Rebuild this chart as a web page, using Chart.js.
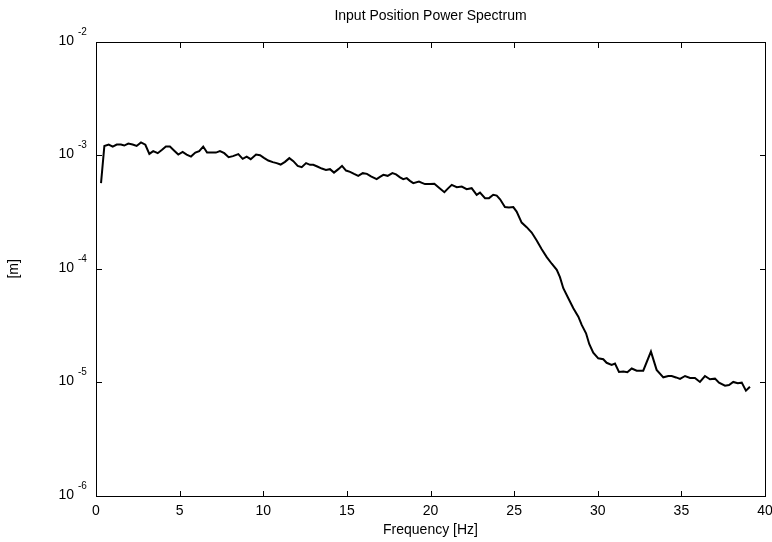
<!DOCTYPE html>
<html>
<head>
<meta charset="utf-8">
<script src="https://cdn.jsdelivr.net/npm/chart.js@4.4.1/dist/chart.umd.min.js"></script>
<style>
  body { margin: 0; background: #fff; }
  #wrap { width: 772px; height: 542px; }
</style>
</head>
<body>
<div id="wrap"><canvas id="spectrum" width="772" height="542"></canvas></div>
<script>
// frequency axis of the spectrum [Hz]
const freq = [
  0.30, 0.50, 0.76, 1.00, 1.24, 1.49, 1.69, 1.93, 2.19, 2.43, 2.69, 2.95, 3.19, 3.42, 3.69, 3.95,
  4.18, 4.42, 4.68, 4.92, 5.18, 5.42, 5.68, 5.94, 6.17, 6.41, 6.64, 6.87, 7.17, 7.41, 7.67, 7.93,
  8.19, 8.51, 8.77, 9.01, 9.25, 9.57, 9.81, 10.04, 10.30, 10.57, 10.80, 11.04, 11.30, 11.56, 11.80, 12.06,
  12.30, 12.56, 12.80, 12.99, 13.23, 13.50, 13.75, 13.99, 14.23, 14.49, 14.71, 14.95, 15.19, 15.43, 15.68, 15.95,
  16.20, 16.44, 16.78, 16.98, 17.18, 17.44, 17.72, 17.94, 18.18, 18.37, 18.58, 18.77, 18.97, 19.31, 19.49, 19.67,
  19.97, 20.23, 20.51, 20.83, 21.05, 21.27, 21.57, 21.87, 22.16, 22.46, 22.76, 22.96, 23.26, 23.50, 23.75, 23.96,
  24.16, 24.45, 24.69, 24.95, 25.15, 25.45, 25.75, 26.05, 26.35, 26.65, 26.95, 27.25, 27.55, 27.74, 27.94, 28.24,
  28.54, 28.84, 29.04, 29.30, 29.49, 29.73, 30.03, 30.33, 30.53, 30.83, 31.03, 31.27, 31.53, 31.77, 32.03,
  32.33, 32.72, 33.18, 33.52, 33.92, 34.22, 34.42, 34.68, 34.92, 35.22, 35.52, 35.81, 36.11, 36.41, 36.71, 37.01,
  37.25, 37.61, 37.85, 38.10, 38.37, 38.61, 38.86, 39.10
];

// power spectrum values [m]
const power = [
  5.7e-4, 1.21e-3, 1.245e-3, 1.195e-3, 1.245e-3, 1.245e-3, 1.22e-3, 1.27e-3, 1.245e-3, 1.21e-3, 1.30e-3, 1.24e-3, 1.03e-3, 1.09e-3, 1.045e-3, 1.12e-3,
  1.195e-3, 1.195e-3, 1.10e-3, 1.016e-3, 1.073e-3, 1.016e-3, 0.976e-3, 1.058e-3, 1.09e-3, 1.195e-3, 1.058e-3, 1.058e-3, 1.058e-3, 1.09e-3, 1.045e-3, 0.964e-3,
  0.984e-3, 1.024e-3, 0.932e-3, 0.976e-3, 0.926e-3, 1.016e-3, 1.004e-3, 0.951e-3, 0.900e-3, 0.871e-3, 0.854e-3, 0.830e-3, 0.876e-3, 0.945e-3, 0.889e-3, 0.808e-3,
  0.787e-3, 0.854e-3, 0.825e-3, 0.825e-3, 0.797e-3, 0.765e-3, 0.745e-3, 0.756e-3, 0.705e-3, 0.756e-3, 0.808e-3, 0.735e-3, 0.716e-3, 0.687e-3, 0.660e-3, 0.697e-3,
  0.687e-3, 0.653e-3, 0.617e-3, 0.646e-3, 0.673e-3, 0.660e-3, 0.697e-3, 0.680e-3, 0.640e-3, 0.617e-3, 0.630e-3, 0.596e-3, 0.569e-3, 0.588e-3, 0.573e-3, 0.558e-3,
  0.559e-3, 0.561e-3, 0.518e-3, 0.474e-3, 0.512e-3, 0.550e-3, 0.525e-3, 0.531e-3, 0.504e-3, 0.514e-3, 0.449e-3, 0.470e-3, 0.420e-3, 0.420e-3, 0.449e-3, 0.442e-3,
  0.410e-3, 0.350e-3, 0.348e-3, 0.350e-3, 0.320e-3, 0.256e-3, 0.233e-3, 0.209e-3, 0.178e-3, 0.149e-3, 0.127e-3, 0.111e-3, 0.98e-4, 0.845e-4, 0.676e-4, 0.552e-4,
  0.451e-4, 0.380e-4, 0.321e-4, 0.271e-4, 0.218e-4, 0.183e-4, 0.163e-4, 0.160e-4, 0.149e-4, 0.143e-4, 0.147e-4, 1.237e-5, 1.25e-5, 1.23e-5, 1.328e-5,
  1.27e-5, 1.27e-5, 1.87e-5, 1.29e-5, 1.11e-5, 1.14e-5, 1.14e-5, 1.107e-5, 1.073e-5, 1.14e-5, 1.095e-5, 1.095e-5, 1.01e-5, 1.14e-5, 1.067e-5, 1.08e-5,
  0.996e-5, 0.937e-5, 0.95e-5, 1.01e-5, 0.984e-5, 0.996e-5, 0.847e-5, 0.918e-5
];

const xTicks = [0, 5, 10, 15, 20, 25, 30, 35, 40];
const yExponents = [-6, -5, -4, -3, -2];

const FONT = "'Liberation Sans', Arial, Helvetica, sans-serif";

// box, inward ticks and 10^n labels like the original plot
const framePlugin = {
    id: 'frame',
    afterDraw(chart) {
        const c = chart.ctx;
        const area = chart.chartArea;
        const xs = chart.scales.x;
        const ys = chart.scales.y;
        const L = Math.round(area.left);
        const R = Math.round(area.right);
        const T = Math.round(area.top);
        const B = Math.round(area.bottom);
        const tick = 5;

        c.save();
        c.fillStyle = '#000';
        // box
        c.fillRect(L, T, R - L + 1, 1);
        c.fillRect(L, B, R - L + 1, 1);
        c.fillRect(L, T, 1, B - T + 1);
        c.fillRect(R, T, 1, B - T + 1);

        // inward ticks
        xTicks.forEach(v => {
            const px = Math.round(xs.getPixelForValue(v));
            c.fillRect(px, B - tick, 1, tick);
            c.fillRect(px, T + 1, 1, tick);
        });
        yExponents.forEach(e => {
            const py = Math.round(ys.getPixelForValue(Math.pow(10, e)));
            c.fillRect(L + 1, py, tick, 1);
            c.fillRect(R - tick, py, tick, 1);
        });

        // y tick labels: 10 with superscript exponent
        c.textBaseline = 'alphabetic';
        yExponents.forEach(e => {
            const py = ys.getPixelForValue(Math.pow(10, e));
            c.font = '14px ' + FONT;
            c.textAlign = 'right';
            c.fillText('10', 74, py + 3);
            c.font = '10px ' + FONT;
            c.textAlign = 'left';
            c.fillText(String(e), 78, py - 7);
        });
        c.restore();
    }
};

const ctx = document.getElementById('spectrum').getContext('2d');
const chart = new Chart(ctx, {
    type: 'line',
    data: {
        datasets: [{
            label: 'Input Position',
            data: freq.map((f, i) => ({ x: f, y: power[i] })),
            borderColor: '#000',
            borderWidth: 2,
            pointRadius: 0,
            tension: 0,
            fill: false
        }]
    },
    options: {
        responsive: false,
        animation: false,
        devicePixelRatio: 1,
        layout: { padding: { left: 0, right: 7, top: 0, bottom: 0 } },
        plugins: {
            legend: { display: false },
            tooltip: { enabled: false },
            title: {
                display: true,
                text: 'Input Position Power Spectrum',
                color: '#000',
                fullSize: false,
                font: { family: FONT, size: 14, weight: 'normal' },
                padding: { top: 8, bottom: 17 }
            }
        },
        scales: {
            x: {
                type: 'linear',
                min: 0,
                max: 40,
                grid: { display: false, drawTicks: false, tickLength: 0 },
                border: { display: false },
                afterBuildTicks: s => { s.ticks = xTicks.map(v => ({ value: v })); },
                afterFit: s => { s.height = 46; s.paddingLeft = 0; s.paddingRight = 0; },
                ticks: {
                    color: '#000',
                    padding: 7,
                    maxRotation: 0,
                    font: { family: FONT, size: 14 }
                },
                title: {
                    display: true,
                    text: 'Frequency [Hz]',
                    color: '#000',
                    font: { family: FONT, size: 14 },
                    padding: { top: 0, bottom: 3 }
                }
            },
            y: {
                type: 'logarithmic',
                min: 1e-6,
                max: 1e-2,
                grid: { display: false, drawTicks: false, tickLength: 0 },
                border: { display: false },
                ticks: { display: false },
                afterFit: s => { s.width = 96; s.paddingTop = 0; s.paddingBottom = 0; },
                title: {
                    display: true,
                    text: '[m]',
                    color: '#000',
                    font: { family: FONT, size: 14 },
                    padding: { top: 6, bottom: 0 }
                }
            }
        }
    },
    plugins: [framePlugin]
});
</script>
</body>
</html>
